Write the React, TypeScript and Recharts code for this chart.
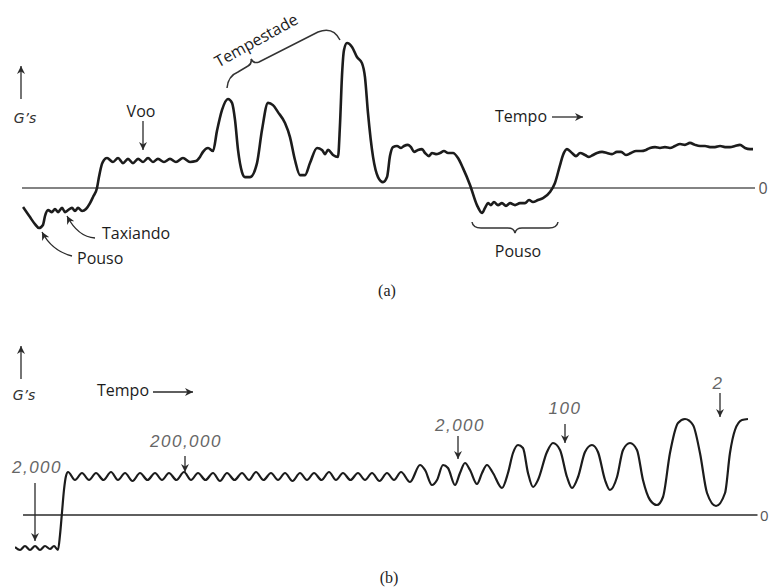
import React from "react";
import { LineChart, Line, XAxis, YAxis, ReferenceLine } from "recharts";

// (a) Load history of one flight: time (arbitrary units) vs. load factor (G's)
const timeA = [
  0.14, 1.09, 1.77, 2.32, 2.86, 3.14, 3.55, 4.09, 4.5, 4.91, 5.46, 5.87, 6.28, 6.82, 7.23, 7.64, 8.19, 8.73,
  9.28, 9.69, 10.23, 10.5, 10.91, 11.19, 11.6, 12.41, 13.1, 13.78, 14.46, 15.14, 15.83, 16.51, 17.19, 17.87,
  18.55, 19.37, 20.19, 21.01, 21.96, 22.92, 23.74, 24.28, 24.69, 25.38, 26.06, 26.6, 27.29, 28.1, 28.65, 29.06,
  29.47, 30.01, 30.42, 31.11, 32.06, 32.74, 33.56, 34.24, 34.92, 35.88, 36.56, 37.24, 37.93, 38.61, 39.29, 40.25,
  40.93, 41.34, 41.75, 42.43, 43.11, 43.38, 43.66, 43.93, 44.34, 45.02, 45.7, 46.38, 46.79, 47.2, 47.89, 48.57,
  49.25, 49.8, 50.2, 50.61, 51.16, 51.71, 52.11, 52.66, 53.07, 53.48, 54.02, 54.57, 54.98, 55.53, 55.93, 56.48,
  57.03, 57.57, 58.12, 58.8, 59.48, 60.16, 61.12, 62.07, 62.76, 63.17, 63.57, 63.98, 64.39, 64.94, 65.48, 66.03,
  66.58, 67.26, 67.94, 68.62, 69.17, 69.71, 70.4, 71.08, 72.03, 72.71, 73.4, 73.81, 74.35, 75.03, 75.58, 76.13,
  76.81, 77.35, 77.9, 78.44, 79.13, 79.81, 80.49, 81.17, 81.72, 82.4, 83.08, 83.77, 84.45, 85.13, 85.68, 86.36,
  87.04, 87.72, 88.4, 89.09, 89.77, 90.45, 91.13, 91.81, 92.5, 93.18, 93.86, 94.54, 95.23, 95.91, 96.59, 97.27,
  97.95, 98.64, 99.32, 99.73,
];
const gA = [
  -0.68, -1.04, -1.29, -1.43, -1.32, -1.0, -0.79, -0.86, -0.75, -0.86, -0.71, -0.86, -0.79, -0.71, -0.82, -0.71, -0.82, -0.75,
  -0.54, -0.32, 0.0, 0.39, 0.86, 1.0, 1.07, 0.93, 1.07, 0.89, 1.04, 0.89, 1.04, 0.93, 1.07, 0.93,
  1.04, 0.93, 1.04, 0.93, 1.07, 0.93, 0.96, 1.11, 1.29, 1.43, 1.32, 2.04, 2.79, 3.18, 3.04, 2.43,
  1.36, 0.57, 0.39, 0.39, 0.89, 2.07, 3.04, 2.96, 2.71, 2.32, 1.82, 1.0, 0.46, 0.46, 0.89, 1.43,
  1.36, 1.21, 1.36, 1.18, 1.11, 2.25, 4.04, 4.93, 5.18, 5.04, 4.68, 4.46, 3.96, 2.68, 1.11, 0.39,
  0.21, 0.39, 1.14, 1.46, 1.5, 1.43, 1.5, 1.54, 1.46, 1.29, 1.36, 1.39, 1.25, 1.14, 1.25, 1.21,
  1.25, 1.32, 1.25, 1.25, 1.07, 0.71, 0.11, -0.61, -0.89, -0.71, -0.54, -0.61, -0.5, -0.61, -0.54, -0.64,
  -0.54, -0.61, -0.54, -0.54, -0.43, -0.5, -0.43, -0.36, -0.14, 0.18, 0.82, 1.18, 1.39, 1.25, 1.14, 1.25,
  1.18, 1.11, 1.18, 1.25, 1.29, 1.25, 1.21, 1.29, 1.29, 1.18, 1.25, 1.32, 1.32, 1.36, 1.43, 1.46,
  1.43, 1.46, 1.43, 1.5, 1.57, 1.54, 1.61, 1.54, 1.5, 1.5, 1.46, 1.46, 1.5, 1.46, 1.46, 1.5,
  1.54, 1.43, 1.39, 1.39,
];

// (b) Load cycles of increasing amplitude and decreasing count
const timeB = [
  0.0, 0.67, 1.33, 2.0, 2.67, 3.33, 4.0, 4.67, 5.2, 5.73, 6.0, 6.27, 6.53, 6.8, 7.07,
  8.0, 8.93, 9.87, 10.8, 11.8, 12.8, 13.73, 14.67, 15.67, 16.67, 17.67, 18.67, 19.6, 20.53, 21.53, 22.53,
  23.47, 24.4, 25.4, 26.4, 27.33, 28.27, 29.27, 30.27, 31.2, 32.13, 33.13, 34.13, 35.07, 36.0, 37.0, 38.0,
  38.93, 39.87, 40.87, 41.87, 42.8, 43.73, 44.73, 45.73, 46.67, 47.6, 48.6, 49.6, 50.53, 51.47, 52.67,
  54.0, 54.67, 55.6, 56.27, 57.07, 57.73, 58.67, 59.33, 60.0, 60.67, 61.6, 62.27, 62.93, 63.73, 64.93,
  65.73, 66.4, 67.07, 67.73, 68.4, 69.07, 69.73, 70.93, 71.73, 72.67, 73.6, 74.27, 75.07, 76.0, 76.93,
  77.73, 78.67, 79.33, 80.27, 81.07, 82.0, 82.93, 83.73, 84.67, 85.6, 86.4, 87.33, 88.4, 89.33, 90.4,
  91.33, 92.27, 93.47, 94.67, 95.33, 96.0, 96.93, 97.73,
];
const gB = [
  -1.28, -1.4, -1.24, -1.4, -1.24, -1.4, -1.24, -1.36, -1.24, -1.4, -0.8, 0.12, 1.0, 1.56, 1.72,
  1.4, 1.68, 1.4, 1.68, 1.4, 1.72, 1.4, 1.68, 1.36, 1.68, 1.4, 1.68, 1.4, 1.68, 1.4, 1.72,
  1.4, 1.68, 1.4, 1.68, 1.36, 1.68, 1.4, 1.68, 1.4, 1.72, 1.4, 1.68, 1.4, 1.68, 1.36, 1.68,
  1.4, 1.68, 1.4, 1.72, 1.4, 1.68, 1.4, 1.68, 1.4, 1.68, 1.36, 1.68, 1.4, 1.72, 1.32,
  2.0, 1.8, 1.2, 1.4, 2.0, 1.88, 1.2, 1.68, 2.08, 1.8, 1.24, 1.68, 2.0, 1.68, 1.08,
  1.68, 2.48, 2.8, 2.68, 1.68, 1.12, 1.4, 2.52, 2.88, 2.6, 1.52, 1.08, 1.52, 2.52, 2.8,
  2.52, 1.4, 1.0, 1.52, 2.6, 2.88, 2.6, 1.4, 0.6, 0.4, 0.72, 2.48, 3.68, 3.84, 3.6,
  2.48, 0.88, 0.36, 0.88, 2.48, 3.4, 3.8, 3.84,
];

const panelLabels = ["(a)", "(b)"];
const cycleLabels = ["2,000", "200,000", "2,000", "100", "2"];

const dataA = timeA.map((t, i) => ({ t, g: gA[i] }));
const dataB = timeB.map((t, i) => ({ t, g: gB[i] }));

const INK = "#1c1c1c";
const SANS = "'Open Sans', 'Noto Sans', sans-serif";
const NUM = { fontFamily: "'Liberation Sans', Arial, sans-serif", fontStyle: "italic" as const, fontSize: 17, fill: "#666", letterSpacing: 1.5 };

function Annotations() {
  const arrow = { stroke: "#2a2a2a", strokeWidth: 1.3, fill: "none", markerEnd: "url(#ah)" };
  const label = { fontFamily: SANS, fontSize: 16, fill: INK, dominantBaseline: "central" as const };
  const gs = { fontFamily: "'DejaVu Sans', sans-serif", fontStyle: "italic" as const, fontSize: 14, fill: "#333", textAnchor: "middle" as const, dominantBaseline: "central" as const };
  return (
    <svg width={771} height={588} style={{ position: "absolute", left: 0, top: 0, pointerEvents: "none" }}>
      <defs>
        <marker id="ah" viewBox="0 0 10 10" refX="10" refY="5" markerWidth="8" markerHeight="8" markerUnits="userSpaceOnUse" orient="auto">
          <path d="M0,0 L10,5 L0,10 L3,5 Z" fill="#2a2a2a" />
        </marker>
      </defs>

      {/* panel (a) */}
      <line x1={21} y1={99} x2={21} y2={66} {...arrow} />
      <text x={25} y={118} {...gs}>G’s</text>
      <text x={141} y={111} {...label} textAnchor="middle">Voo</text>
      <line x1={143} y1={121} x2={143} y2={150} {...arrow} />
      <text x={256} y={40} {...label} textAnchor="middle" transform="rotate(-29 256 40)">Tempestade</text>
      <path d="M227,88 Q228,76 238,72 L248,66 Q252,64 251,59 Q254,64 259,62 L318,32 Q333,26 340,40" stroke="#333" strokeWidth={1.5} fill="none" />
      <text x={495} y={116} {...label}>Tempo</text>
      <line x1={552} y1={117} x2={583} y2={117} {...arrow} />
      <text x={763} y={188} {...label} fill="#555" textAnchor="middle">0</text>
      <text x={102} y={233} {...label}>Taxiando</text>
      <path d="M95,238 Q78,237 67,216" {...arrow} />
      <text x={77} y={258} {...label}>Pouso</text>
      <path d="M72,256 Q52,251 42,232" {...arrow} />
      <path d="M472,222 Q473,228 481,228 L508,228 Q514,228 515,233 Q516,228 522,228 L549,228 Q557,228 558,222" stroke="#333" strokeWidth={1.5} fill="none" />
      <text x={518} y={251} {...label} textAnchor="middle">Pouso</text>
      <text x={387} y={290} fontFamily="'Liberation Serif', serif" fontSize={16} fill="#222" textAnchor="middle" dominantBaseline="central">{panelLabels[0]}</text>

      {/* panel (b) */}
      <line x1={21} y1={379} x2={21} y2={346} {...arrow} />
      <text x={24} y={395} {...gs}>G’s</text>
      <text x={97} y={390} {...label}>Tempo</text>
      <line x1={153} y1={392} x2={193} y2={392} {...arrow} />
      <text x={37} y={467} {...NUM} textAnchor="middle" dominantBaseline="central">{cycleLabels[0]}</text>
      <line x1={35} y1={483} x2={35} y2={541} {...arrow} />
      <text x={186} y={441} {...NUM} textAnchor="middle" dominantBaseline="central">{cycleLabels[1]}</text>
      <line x1={185} y1={456} x2={185} y2={472} {...arrow} />
      <text x={460} y={425} {...NUM} textAnchor="middle" dominantBaseline="central">{cycleLabels[2]}</text>
      <line x1={458} y1={436} x2={458} y2={459} {...arrow} />
      <text x={565} y={408} {...NUM} textAnchor="middle" dominantBaseline="central">{cycleLabels[3]}</text>
      <line x1={565} y1={424} x2={565} y2={443} {...arrow} />
      <text x={718} y={383} {...NUM} textAnchor="middle" dominantBaseline="central">{cycleLabels[4]}</text>
      <line x1={720} y1={393} x2={720} y2={417} {...arrow} />
      <text x={760} y={515} {...label} fontSize={15} fill="#555">0</text>
      <text x={389} y={577} fontFamily="'Liberation Serif', serif" fontSize={16} fill="#222" textAnchor="middle" dominantBaseline="central">{panelLabels[1]}</text>
    </svg>
  );
}

export default function App() {
  return (
    <div style={{ position: "absolute", left: 0, top: 0, width: 771, height: 588, background: "#fff", overflow: "hidden" }}>
      <div style={{ position: "absolute", left: 0, top: 0 }}>
        <LineChart width={771} height={300} data={dataA} margin={{ top: 20, right: 16, bottom: 0, left: 22 }}>
          <XAxis dataKey="t" type="number" domain={[0, 100]} hide allowDataOverflow />
          <YAxis type="number" domain={[-4, 6]} hide allowDataOverflow />
          <ReferenceLine segment={[{ x: 0, y: 0 }, { x: 100, y: 0 }]} stroke="#5a5a5a" strokeWidth={1.6} />
          <Line type="monotone" dataKey="g" stroke={INK} strokeWidth={2.6} dot={false} activeDot={false} isAnimationActive={false} />
        </LineChart>
      </div>
      <div style={{ position: "absolute", left: 0, top: 300 }}>
        <LineChart width={771} height={288} data={dataB} margin={{ top: 15, right: 6, bottom: 23, left: 15 }}>
          <XAxis dataKey="t" type="number" domain={[0, 100]} hide allowDataOverflow />
          <YAxis type="number" domain={[-2, 8]} hide allowDataOverflow />
          <ReferenceLine segment={[{ x: 1.07, y: 0 }, { x: 99.0, y: 0 }]} stroke="#2a2a2a" strokeWidth={1.6} />
          <Line type="monotone" dataKey="g" stroke={INK} strokeWidth={2.2} dot={false} activeDot={false} isAnimationActive={false} />
        </LineChart>
      </div>
      <Annotations />
    </div>
  );
}
